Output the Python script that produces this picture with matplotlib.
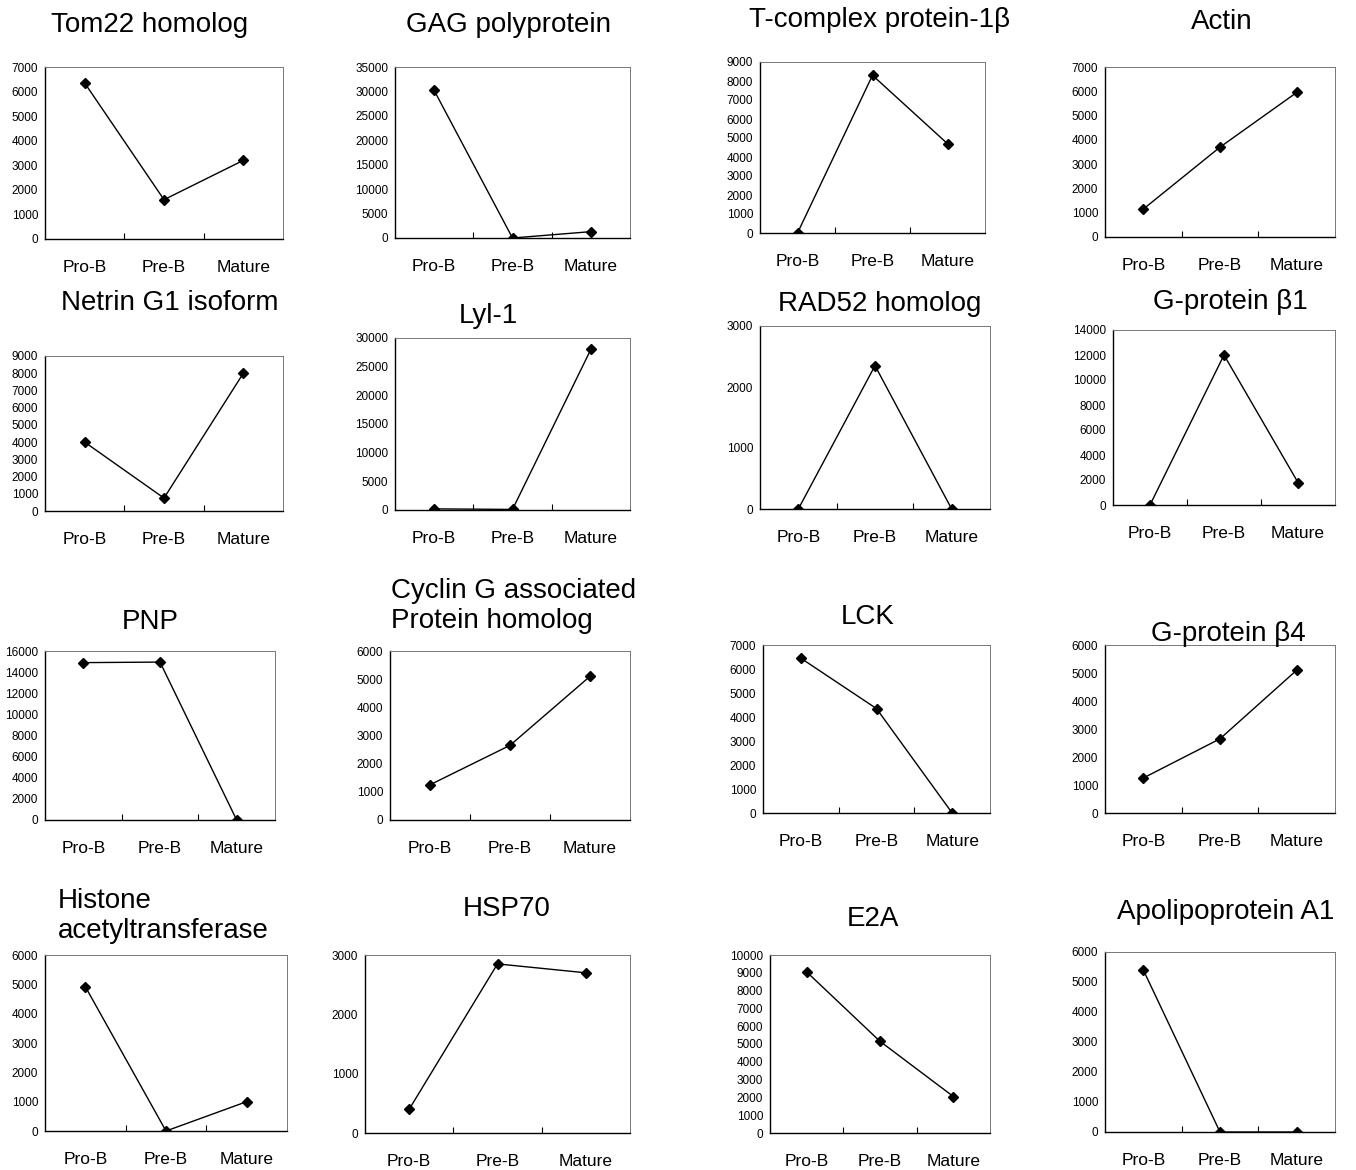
import numpy as np
import matplotlib
matplotlib.use('Agg')
import matplotlib.pyplot as plt

plt.rcParams['font.family'] = ['Liberation Sans', 'DejaVu Sans']

stages = ['Pro-B', 'Pre-B', 'Mature']

titles = ['Tom22 homolog', 'GAG polyprotein', 'T-complex protein-1β', 'Actin',
          'Netrin G1 isoform', 'Lyl-1', 'RAD52 homolog', 'G-protein β1',
          'PNP', 'Cyclin G associated\nProtein homolog', 'LCK', 'G-protein β4',
          'Histone\nacetyltransferase', 'HSP70', 'E2A', 'Apolipoprotein A1']

values = [[6350, 1600, 3200], [30200, 0, 1300], [0, 8300, 4700], [1150, 3700, 5950],
          [4000, 750, 8000], [200, 100, 28000], [0, 2350, 0], [0, 12000, 1800],
          [14900, 14950, 0], [1250, 2650, 5100], [6450, 4350, 0], [1250, 2650, 5100],
          [4920, 0, 1000], [400, 2850, 2700], [9050, 5150, 2050], [5400, 0, 0]]

ymax = [7000, 35000, 9000, 7000, 9000, 30000, 3000, 14000,
        16000, 6000, 7000, 6000, 6000, 3000, 10000, 6000]
ystep = [1000, 5000, 1000, 1000, 1000, 5000, 1000, 2000,
         2000, 1000, 1000, 1000, 1000, 1000, 1000, 1000]

# axes boxes in pixels: left, top, right, bottom ; title x, y, align
boxes = [(45, 67, 283, 239), (395, 67, 630, 238), (760, 62, 985, 233), (1105, 67, 1335, 237),
         (45, 356, 283, 511), (395, 338, 630, 510), (760, 326, 990, 509), (1113, 330, 1335, 505),
         (45, 651, 275, 820), (390, 651, 630, 820), (763, 645, 990, 813), (1105, 645, 1335, 813),
         (45, 955, 287, 1131), (365, 955, 630, 1133), (770, 955, 990, 1133), (1105, 952, 1335, 1132)]
tpos = [(150, 25, 'center'), (508, 25, 'center'), (880, 20, 'center'), (1222, 22, 'center'),
        (170, 303, 'center'), (488, 316, 'center'), (880, 304, 'center'), (1230, 302, 'center'),
        (150, 622, 'center'), (391, 606, 'left'), (868, 617, 'center'), (1228, 634, 'center'),
        (58, 916, 'left'), (507, 909, 'center'), (873, 919, 'center'), (1226, 912, 'center')]

W, H = 1356, 1170
fig = plt.figure(figsize=(W / 100, H / 100), dpi=100)

for i in range(16):
    l, t, r, b = boxes[i]
    ax = fig.add_axes([l / W, 1 - b / H, (r - l) / W, (b - t) / H])
    x = np.arange(3) + 0.5
    ax.plot(x, values[i], color='black', lw=1.0, marker='D', ms=5.5, mfc='black', mec='black')
    ax.set_xlim(0, 3)
    ax.set_ylim(0, ymax[i])
    ax.set_yticks(np.arange(0, ymax[i] + 1, ystep[i]))
    ax.tick_params(axis='y', length=0, pad=5, labelsize=8.5)
    ax.set_xticks([1, 2])
    ax.set_xticklabels([])
    ax.tick_params(axis='x', which='major', direction='in', length=4, width=0.8)
    ax.set_xticks(x, minor=True)
    ax.set_xticklabels(stages, minor=True)
    ax.tick_params(axis='x', which='minor', length=0, pad=15, labelsize=12.5)
    for s in ['top', 'right']:
        ax.spines[s].set_color('#777777')
        ax.spines[s].set_linewidth(0.7)
    for s in ['left', 'bottom']:
        ax.spines[s].set_color('black')
        ax.spines[s].set_linewidth(1.0)
    tx, ty, ha = tpos[i]
    fig.text(tx / W, 1 - ty / H, titles[i], ha=ha, va='center', fontsize=20,
             linespacing=1.15)

fig.savefig('out.png', dpi=100)
